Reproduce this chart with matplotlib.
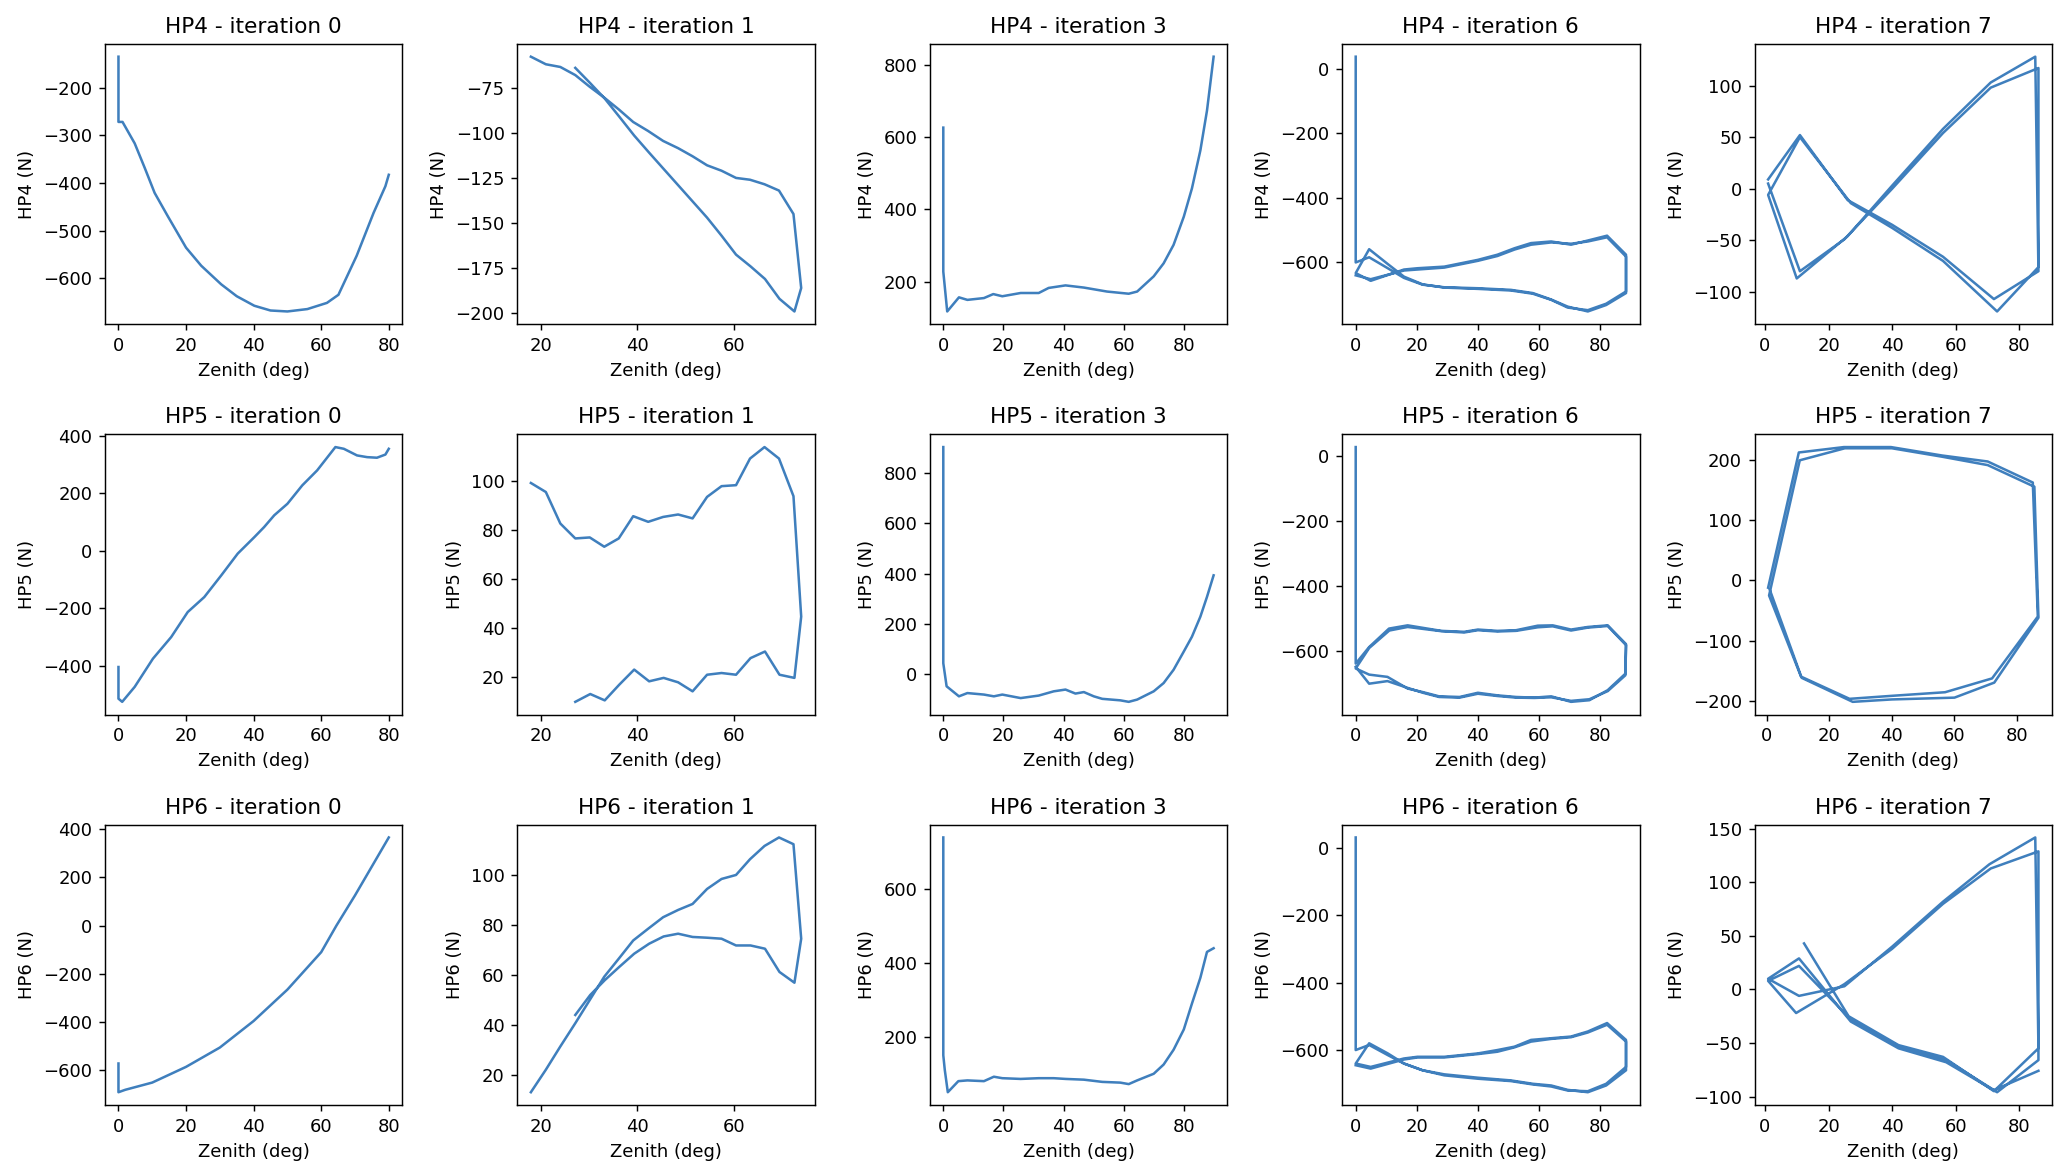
import numpy as np
import matplotlib.pyplot as plt

# ---- HP4 ----
hp4_it0_x = [0, 0, 1.2, 4.8, 7.8, 10.7, 14.6, 20, 24.5, 30.4, 35, 40.2, 45, 50, 55.9, 61.7, 65.1, 70.5, 75.5, 79, 80]
hp4_it0_y = [-135, -272, -272, -317, -369, -421, -470, -536, -574, -613, -638, -658, -668, -670, -665, -652, -635, -553, -463, -407, -383]

hp4_it1_x = [18.0, 21.1, 24.1, 27.2, 30.2, 33.2, 36.2, 39.2, 42.3, 45.4, 48.5, 51.5, 54.5, 57.5, 60.5, 63.4, 66.4, 69.4, 72.4, 74.0,
             72.6, 69.5, 66.5, 63.5, 60.5, 57.5, 54.5, 51.5, 48.5, 45.5, 42.5, 39.4, 36.3, 33.3, 30.3, 27.2]
hp4_it1_y = [-57.8, -62, -63.5, -68, -74.5, -80.5, -87, -94, -99, -104.5, -108.5, -113, -118, -121, -125, -126, -128.5, -132, -145, -186,
             -199, -192, -181, -174, -167.5, -157, -147, -138, -129, -120, -111, -101.5, -91, -81, -72.5, -64]

hp4_it3_x = [0, 0, 1.3, 5.2, 8, 13.5, 16.6, 19.6, 25.7, 31.7, 35, 40.6, 46.7, 54.4, 61.6, 64.4, 69.9, 73.2, 76.5, 79.9, 82.6, 85.4, 87.6, 89.8]
hp4_it3_y = [626, 228, 118, 157, 150, 155, 166, 160, 169, 169, 183, 190, 184, 173, 167, 173, 215, 251, 302, 380, 458, 563, 673, 822]

hp4_it6_x = [0, 0, 4.4, 10.5, 15.8, 21.9, 29, 40, 50.8, 58, 64, 69.4, 76, 82, 88.5, 88.5, 82.3, 76, 70.5, 64, 57.4, 52, 46.4, 40, 29, 20.2, 15.8, 4.9, 0,
             4.4, 10.5, 15.8, 21.9, 29, 40, 50.8, 58, 64, 69.4, 76, 82, 88.5, 88.5, 82.3, 76, 70.5, 64, 57.4, 52, 46.4, 40, 29, 20.2, 15.8, 4.9, 0]
hp4_it6_y = [38, -600, -584, -618, -648, -669, -677, -680, -685, -695, -715, -737, -752, -732, -695, -576, -517, -532, -545, -535, -540, -556, -576, -592, -613, -618, -622, -657, -633,
             -559, -605, -644, -668, -678, -682, -687, -697, -716, -740, -748, -728, -690, -582, -522, -535, -542, -538, -545, -560, -580, -595, -616, -622, -625, -652, -640]

hp4_it7_x = [1, 11, 26, 40, 56, 72, 86, 85, 71, 56, 40, 26, 10, 1,
             11, 27, 40, 56, 73, 86, 86, 71, 56, 40, 25, 11, 1]
hp4_it7_y = [9, 52, -11, -35, -66, -107, -80, 128, 103, 58, 3, -46, -87, -6,
             50, -14, -38, -70, -119, -76, 117, 98, 54, 0, -49, -80, 5]

# ---- HP5 ----
hp5_it0_x = [0, 0, 1.1, 4.8, 10.2, 15.6, 20.5, 25.4, 30.4, 35.3, 40.2, 43.1, 46.1, 50, 54.4, 58.8, 64.2, 66.7, 70.6, 73.6, 76.5, 79, 80]
hp5_it0_y = [-404, -514, -525, -473, -375, -300, -213, -161, -86, -10, 47, 82, 123, 163, 227, 279, 360, 354, 331, 325, 323, 334, 354]

hp5_it1_x = hp4_it1_x
hp5_it1_y = [99.3, 95.6, 82.7, 76.6, 77, 73.2, 76.6, 85.7, 83.4, 85.4, 86.4, 84.8, 93.6, 98, 98.4, 109.3, 114, 109.3, 93.9, 44.6,
             19.5, 20.8, 30.3, 27.6, 20.8, 21.5, 20.8, 14, 17.7, 19.5, 18.1, 22.9, 16.7, 10.3, 12.9, 9.7]

hp5_it3_x = [0, 0, 1.1, 5.2, 8, 13.5, 16.8, 19.6, 25.7, 31.7, 36.7, 40.6, 43.9, 46.7, 50, 52.8, 58.8, 61.6, 64.4, 69.9, 73.2, 76.5, 79.9, 82.6, 85.4, 87.6, 89.8]
hp5_it3_y = [905, 42, -50, -90, -77, -83, -90, -83, -97, -87, -70, -63, -79, -73, -90, -100, -106, -112, -103, -70, -37, 16, 89, 148, 228, 307, 393]

hp5_it6_x = [0, 0, 4.4, 10.9, 17, 28, 35.5, 40, 46.4, 52.5, 59.6, 64.5, 70.5, 76, 82.5, 88.5, 88.3, 82.5, 76.5, 70.5, 64, 58.5, 52.5, 46.4, 40, 34, 27.3, 22, 17, 10.4, 4.4, 0,
             4.4, 11, 17, 28, 35.5, 40, 46.4, 52.5, 59.6, 64.5, 70.5, 76, 82.5, 88.5, 88.3, 82.5, 76.5, 70.5, 64, 58.5, 52.5, 46.4, 40, 34, 27.3, 22, 17, 10.4, 4.4, 0]
hp5_it6_y = [28, -640, -589, -532, -522, -539, -542, -535, -539, -537, -523, -522, -535, -527, -522, -580, -671, -722, -753, -758, -741, -745, -743, -738, -730, -743, -741, -728, -717, -681, -674, -655,
             -592, -538, -527, -540, -544, -537, -541, -539, -528, -525, -538, -529, -524, -583, -676, -725, -750, -755, -744, -746, -745, -740, -733, -745, -743, -730, -715, -694, -702, -650]

hp5_it7_x = [0.5, 10.3, 24.7, 39.7, 56, 70.6, 85, 86.6, 72, 57, 40, 26.5, 11, 0.8,
             10.6, 25, 40, 56, 70.6, 85.5, 86.8, 72.7, 60, 40, 27.5, 11.2, 1]
hp5_it7_y = [-12, 213, 222, 222, 208, 198, 163, -60, -163, -186, -192, -197, -160, -25,
             200, 220, 220, 206, 192, 156, -62, -170, -195, -198, -202, -162, -15]

# ---- HP6 ----
hp6_it0_x = [0, 0, 2, 10, 20, 30, 40, 50, 60, 64.5, 70, 75, 80]
hp6_it0_y = [-571, -690, -680, -650, -585, -505, -395, -265, -110, 0, 125, 245, 365]

hp6_it1_x = hp4_it1_x
hp6_it1_y = [13, 22, 31.3, 40.6, 49.9, 59.2, 66.4, 73.7, 78.4, 83, 85.9, 88.3, 94.3, 98.3, 99.9, 106.2, 111.5, 114.9, 112.2, 74.4,
             56.8, 61.1, 70.4, 71.7, 71.7, 74.4, 74.8, 75.1, 76.4, 75.3, 72.4, 68.4, 63.1, 57.8, 51.9, 43.9]

hp6_it3_x = [0, 0, 0.5, 1.5, 5, 8, 13.5, 16.8, 19.6, 25.7, 31.7, 36.7, 40.6, 46.7, 52.8, 58.8, 61.6, 64.4, 69.9, 73.2, 76.5, 79.9, 82.6, 85.4, 87.6, 89.8]
hp6_it3_y = [740, 150, 110, 50, 80, 82, 80, 92, 88, 86, 88, 88, 86, 84, 78, 76, 72, 82, 100, 125, 165, 220, 290, 360, 430, 440]

hp6_it6_x = hp4_it6_x
hp6_it6_y = [30, -600, -585, -615, -640, -660, -672, -682, -690, -700, -705, -718, -725, -705, -660, -570, -520, -545, -560, -565, -570, -590, -600, -610, -620, -620, -625, -650, -640,
             -580, -610, -640, -660, -675, -685, -692, -702, -708, -720, -722, -700, -650, -575, -525, -548, -562, -567, -575, -592, -605, -612, -622, -622, -628, -655, -645]

hp6_it7_x = [12.3, 26.3, 42, 56, 72, 86, 85, 70.6, 56, 40, 25, 10.7, 1,
             10.7, 27, 42, 57, 73, 86, 86, 71, 56, 40, 25, 9.8, 1,
             10.7, 27, 42, 57, 72, 86]
hp6_it7_y = [43, -25, -52, -63, -95, -55, 142, 117, 82, 40, 3, -6, 10,
             29, -30, -55, -68, -96, -66, 129, 113, 80, 38, 5, -22, 8,
             22, -28, -53, -66, -94, -76]

iterations = [0, 1, 3, 6, 7]
hps = ['HP4', 'HP5', 'HP6']
data = {
    'HP4': [(hp4_it0_x, hp4_it0_y), (hp4_it1_x, hp4_it1_y), (hp4_it3_x, hp4_it3_y), (hp4_it6_x, hp4_it6_y), (hp4_it7_x, hp4_it7_y)],
    'HP5': [(hp5_it0_x, hp5_it0_y), (hp5_it1_x, hp5_it1_y), (hp5_it3_x, hp5_it3_y), (hp5_it6_x, hp5_it6_y), (hp5_it7_x, hp5_it7_y)],
    'HP6': [(hp6_it0_x, hp6_it0_y), (hp6_it1_x, hp6_it1_y), (hp6_it3_x, hp6_it3_y), (hp6_it6_x, hp6_it6_y), (hp6_it7_x, hp6_it7_y)],
}

fig, axes = plt.subplots(3, 5, figsize=(2066 / 130, 1172 / 130), dpi=130)
fig.subplots_adjust(left=0.0508, right=0.9932, top=0.9625, bottom=0.0572, wspace=0.387, hspace=0.393)

for i, hp in enumerate(hps):
    for j, it in enumerate(iterations):
        ax = axes[i, j]
        x, y = data[hp][j]
        ax.plot(x, y, color='#3f7fbd', lw=1.4)
        ax.set_title(f"{hp} - iteration {it}")
        ax.set_xlabel("Zenith (deg)")
        ax.set_ylabel(f"{hp} (N)")

fig.savefig("out.png", dpi=130)
